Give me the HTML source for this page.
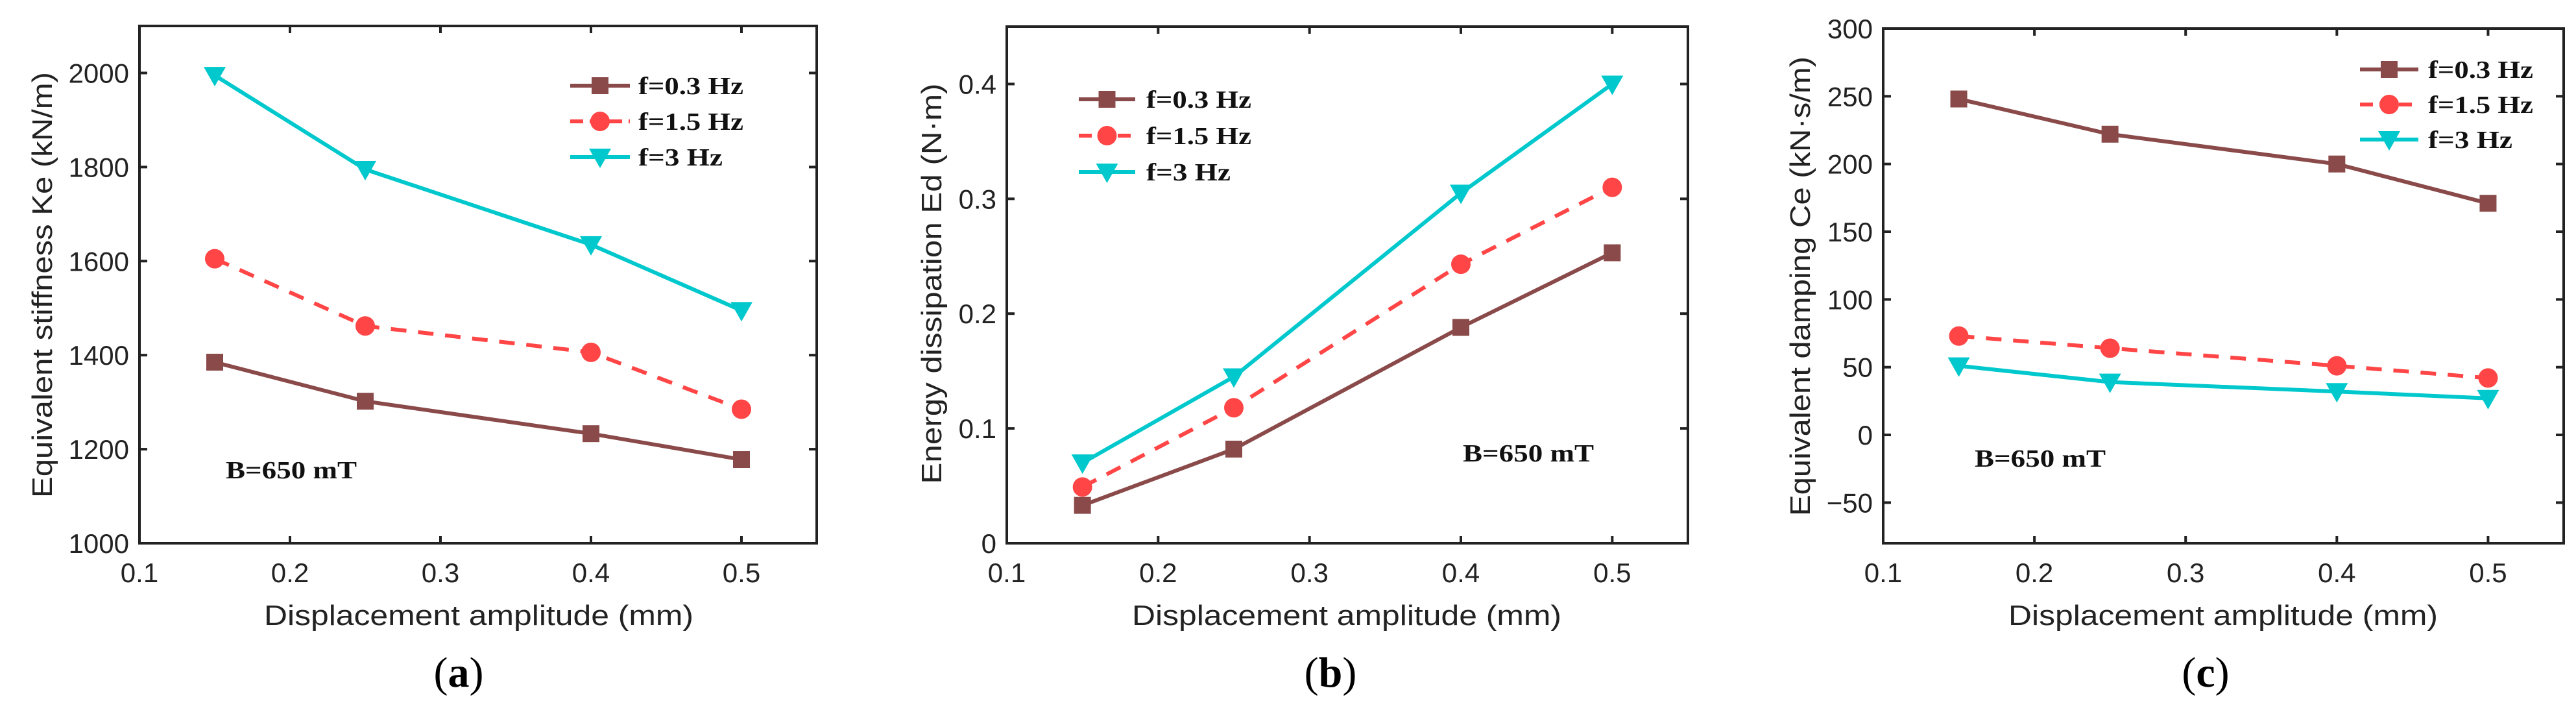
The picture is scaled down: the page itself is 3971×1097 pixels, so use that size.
<!DOCTYPE html>
<html><head><meta charset="utf-8"><style>
html,body{margin:0;padding:0;background:#fff;overflow:hidden;}
svg{display:block;}
text{font-family:"Liberation Sans",sans-serif;}
.tick{font-size:42px;fill:#222;}
.ttl{font-size:44px;fill:#222;}
.leg{font-family:"Liberation Serif",serif;font-weight:bold;font-size:38px;fill:#111;}
.cap{font-family:"Liberation Serif",serif;font-size:66px;fill:#000;}
</style></head><body>
<svg id="fig" width="3971" height="1097" viewBox="0 0 3971 1097" xmlns="http://www.w3.org/2000/svg"></svg>
<script>
var xCats = [0.15, 0.25, 0.4, 0.5];
var xTicks = [0.1, 0.2, 0.3, 0.4, 0.5];
var seriesNames = ["f=0.3 Hz", "f=1.5 Hz", "f=3 Hz"];
var aF03 = [1385, 1302, 1233, 1178];
var aF15 = [1605, 1462, 1406, 1285];
var aF3 = [1995, 1795, 1635, 1495];
var aTicks = [1000, 1200, 1400, 1600, 1800, 2000];
var bF03 = [0.033, 0.082, 0.188, 0.253];
var bF15 = [0.049, 0.118, 0.243, 0.310];
var bF3 = [0.070, 0.145, 0.305, 0.400];
var bTicks = [0, 0.1, 0.2, 0.3, 0.4];
var cF03 = [248, 222, 200, 171];
var cF15 = [73, 64, 51, 42];
var cF3 = [51, 39, 32, 27];
var cTicks = [-50, 0, 50, 100, 150, 200, 250, 300];

var NS = "http://www.w3.org/2000/svg";
var svg = document.getElementById("fig");
function mk(tag, attrs, parent) {
  var e = document.createElementNS(NS, tag);
  for (var k in attrs) e.setAttribute(k, attrs[k]);
  (parent || svg).appendChild(e);
  return e;
}
var colors = ["#8a4a4a", "#ff4545", "#00c8cc"];

var panels = [
  {id:"a", L:215, R:1259, T:40, B:837, xmin:0.1, xmax:0.55, ymin:1000, ymax:2100, ticks:aTicks, data:[aF03,aF15,aF3],
   ytitle:"Equivalent stiffness Ke (kN/m)", ytx:64, yty:439, ytl:656, xtc:738, cap:"a", capx:707,
   legLine:[879,971], legText:984, legY:[132,187,242], bx:348, by:737},
  {id:"b", L:1552, R:2602, T:41, B:837, xmin:0.1, xmax:0.55, ymin:0, ymax:0.45, ticks:bTicks, data:[bF03,bF15,bF3],
   ytitle:"Energy dissipation Ed (N\u00b7m)", ytx:1435, yty:437, ytl:617, xtc:2076, cap:"b", capx:2051,
   legLine:[1663,1750], legText:1767, legY:[153,209,265], bx:2255, by:711},
  {id:"c", L:2903, R:3952, T:44, B:837, xmin:0.1, xmax:0.55, ymin:-80, ymax:300, ticks:cTicks, data:[cF03,cF15,cF3],
   ytitle:"Equivalent damping Ce (kN\u00b7s/m)", ytx:2774, yty:441, ytl:708, xtc:3427, cap:"c", capx:3400,
   legLine:[3638,3728], legText:3743, legY:[107,161,215], bx:3044, by:719}
];

function marker(g, k, x, y) {
  var m;
  if (k === 0) m = mk("rect", {x:x-13, y:y-13, width:26, height:26, fill:colors[0]}, g);
  else if (k === 1) m = mk("circle", {cx:x, cy:y, r:15, fill:colors[1]}, g);
  else m = mk("polygon", {points:(x-17)+","+(y-13)+" "+(x+17)+","+(y-13)+" "+x+","+(y+17), fill:colors[2]}, g);
  return m;
}

panels.forEach(function(p) {
  var sx = function(v){ return p.L + (v - p.xmin) / (p.xmax - p.xmin) * (p.R - p.L); };
  var sy = function(v){ return p.B - (v - p.ymin) / (p.ymax - p.ymin) * (p.B - p.T); };
  var g = mk("g", {});
  
  
  var box = mk("rect", {x:p.L, y:p.T, width:p.R-p.L, height:p.B-p.T, fill:"none", stroke:"#222", "stroke-width":4}, g);
  
  
  xTicks.forEach(function(t) {
    var x = sx(t);
    mk("line", {x1:x, x2:x, y1:p.B, y2:p.B-11, stroke:"#222", "stroke-width":4}, g);
    mk("line", {x1:x, x2:x, y1:p.T, y2:p.T+11, stroke:"#222", "stroke-width":4}, g);
    var tl = mk("text", {x:x, y:897, "text-anchor":"middle", "class":"tick"}, g);
    tl.textContent = String(t);
    
    
  });
  p.ticks.forEach(function(t) {
    var y = sy(t);
    mk("line", {x1:p.L, x2:p.L+12, y1:y, y2:y, stroke:"#222", "stroke-width":4}, g);
    mk("line", {x1:p.R, x2:p.R-12, y1:y, y2:y, stroke:"#222", "stroke-width":4}, g);
    var tl = mk("text", {x:p.L-16, y:y+15, "text-anchor":"end", "class":"tick"}, g);
    tl.textContent = (t < 0 ? "\u2212" + Math.abs(t) : String(t));
    
    
  });
  var xt = mk("text", {x:p.xtc, y:963, "text-anchor":"middle", "class":"ttl", textLength:662, lengthAdjust:"spacingAndGlyphs"}, g);
  xt.textContent = "Displacement amplitude (mm)";
  
  
  var yt = mk("text", {x:0, y:0, "text-anchor":"middle", "class":"ttl", textLength:p.ytl, lengthAdjust:"spacingAndGlyphs", transform:"translate("+(p.ytx+16)+","+p.yty+") rotate(-90)"}, g);
  yt.textContent = p.ytitle;
  
  
  var cap = mk("text", {x:p.capx, y:1058, "text-anchor":"middle", "class":"cap"}, g);
  cap.innerHTML = '(<tspan font-weight="bold">' + p.cap + '</tspan>)';
  
  
  var bt = mk("text", {x:p.bx, y:p.by, "class":"leg", textLength:202, lengthAdjust:"spacingAndGlyphs"}, g);
  bt.textContent = "B=650 mT";
  
  

  p.data.forEach(function(vals, k) {
    var pts = vals.map(function(v, i){ return sx(xCats[i]) + "," + sy(v); }).join(" ");
    var ln = mk("polyline", {points:pts, fill:"none", stroke:colors[k], "stroke-width":6, "stroke-dasharray": k===1 ? "24,18" : "none", "stroke-linejoin":"round"}, g);
    
    
    vals.forEach(function(v, i) {
      var m = marker(g, k, sx(xCats[i]), sy(v));
      
      
    });
    var ly = p.legY[k];
    var lg = mk("g", {}, g);
    
    
    mk("line", {x1:p.legLine[0], x2:p.legLine[1], y1:ly, y2:ly, stroke:colors[k], "stroke-width":6, "stroke-dasharray": k===1 ? "20,10" : "none"}, lg);
    marker(lg, k, (p.legLine[0]+p.legLine[1])/2, ly);
    var lt = mk("text", {x:p.legText, y:ly+13, "class":"leg", textLength: k===2 ? 130 : 162, lengthAdjust:"spacingAndGlyphs"}, lg);
    lt.textContent = seriesNames[k];
  });
});
</script>
</body></html>
